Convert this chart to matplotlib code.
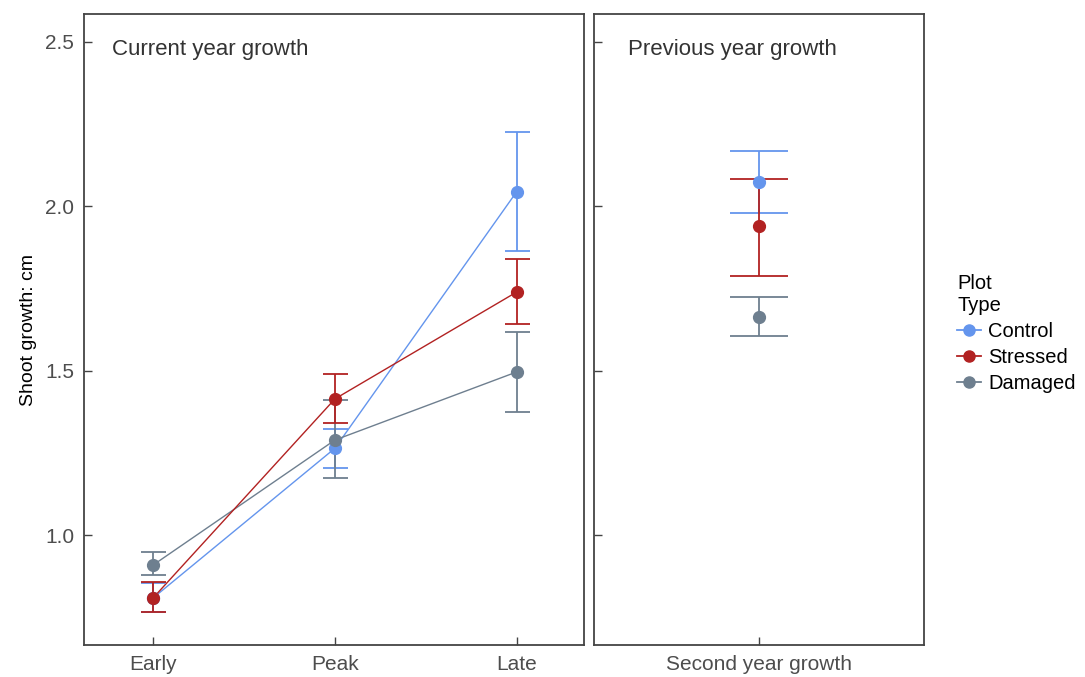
import matplotlib
matplotlib.use("Agg")
import matplotlib.pyplot as plt
from matplotlib.lines import Line2D

# ---- data ----
stages = ["Early", "Peak", "Late"]
prev_label = ["Second year growth"]
groups = ["Control", "Stressed", "Damaged"]
colors = {"Control": "#6495ED", "Stressed": "#B22222", "Damaged": "#6E7F8F"}

current_mean = {
    "Control":  [0.81, 1.265, 2.045],
    "Stressed": [0.81, 1.415, 1.740],
    "Damaged":  [0.91, 1.290, 1.497],
}
current_lo = {
    "Control":  [0.766, 1.204, 1.866],
    "Stressed": [0.766, 1.343, 1.644],
    "Damaged":  [0.880, 1.176, 1.374],
}
current_hi = {
    "Control":  [0.855, 1.325, 2.225],
    "Stressed": [0.860, 1.490, 1.839],
    "Damaged":  [0.950, 1.413, 1.617],
}
prev_mean = {"Control": 2.075, "Stressed": 1.940, "Damaged": 1.665}
prev_lo = {"Control": 1.980, "Stressed": 1.790, "Damaged": 1.605}
prev_hi = {"Control": 2.170, "Stressed": 2.082, "Damaged": 1.726}

draw_order = ["Control", "Damaged", "Stressed"]

plt.rcParams['font.family'] = ['Liberation Sans', 'DejaVu Sans']

fig = plt.figure(figsize=(10.85, 6.77), dpi=100)
W, H = 1085, 677
ax1 = fig.add_axes([84 / W, 1 - 645 / H, (584 - 84) / W, (645 - 14) / H])
ax2 = fig.add_axes([594 / W, 1 - 645 / H, (924 - 594) / W, (645 - 14) / H])

ylim = (0.667, 2.585)
tick_col = "#4D4D4D"
frame_col = "#444444"

for ax in (ax1, ax2):
    ax.set_ylim(*ylim)
    ax.set_yticks([1.0, 1.5, 2.0, 2.5])
    for s in ax.spines.values():
        s.set_color(frame_col)
        s.set_linewidth(1.3)
    ax.tick_params(direction="in", length=6, width=1.0, color=frame_col,
                   labelsize=15, labelcolor=tick_col, pad=7)

x1 = list(range(len(stages)))
for g in draw_order:
    m = current_mean[g]
    lo = [a - b for a, b in zip(m, current_lo[g])]
    hi = [b - a for a, b in zip(m, current_hi[g])]
    ax1.plot(x1, m, color=colors[g], lw=1.0, zorder=2)
    ax1.errorbar(x1, m, yerr=[lo, hi], fmt="none", ecolor=colors[g],
                 elinewidth=1.3, capsize=9, capthick=1.3, zorder=3)
    ax1.plot(x1, m, "o", color=colors[g], ms=8.5, zorder=4)

ax1.set_xlim(-0.38, 2.37)
ax1.set_xticks(x1)
ax1.set_xticklabels(stages)
ax1.set_yticklabels(["1.0", "1.5", "2.0", "2.5"])
ax1.set_ylabel("Shoot growth: cm", fontsize=14, color="black", labelpad=6)
ax1.text(0.056, 0.944, "Current year growth", transform=ax1.transAxes,
         fontsize=16, color="#333333", va="center", ha="left")

for g in draw_order:
    m = prev_mean[g]
    ax2.errorbar([0], [m], yerr=[[m - prev_lo[g]], [prev_hi[g] - m]], fmt="none",
                 ecolor=colors[g], elinewidth=1.3, capsize=21, capthick=1.3, zorder=3)
    ax2.plot([0], [m], "o", color=colors[g], ms=8.5, zorder=4)

ax2.set_xlim(-1, 1)
ax2.set_xticks([0])
ax2.set_xticklabels(prev_label)
ax2.set_yticklabels([])
ax2.text(0.103, 0.944, "Previous year growth", transform=ax2.transAxes,
         fontsize=16, color="#333333", va="center", ha="left")

handles = [Line2D([0], [0], color=colors[g], marker="o", ms=8, lw=1.3) for g in groups]
leg = fig.legend(handles, groups, title="Plot\nType", loc="upper left",
                 bbox_to_anchor=(943 / W, 1 - 260 / H), frameon=False,
                 fontsize=14.5, title_fontsize=14.5, handlelength=1.2,
                 handletextpad=0.35, labelspacing=0.35, borderpad=0.2)
leg._legend_box.align = "left"

fig.savefig("out.png", dpi=100)
